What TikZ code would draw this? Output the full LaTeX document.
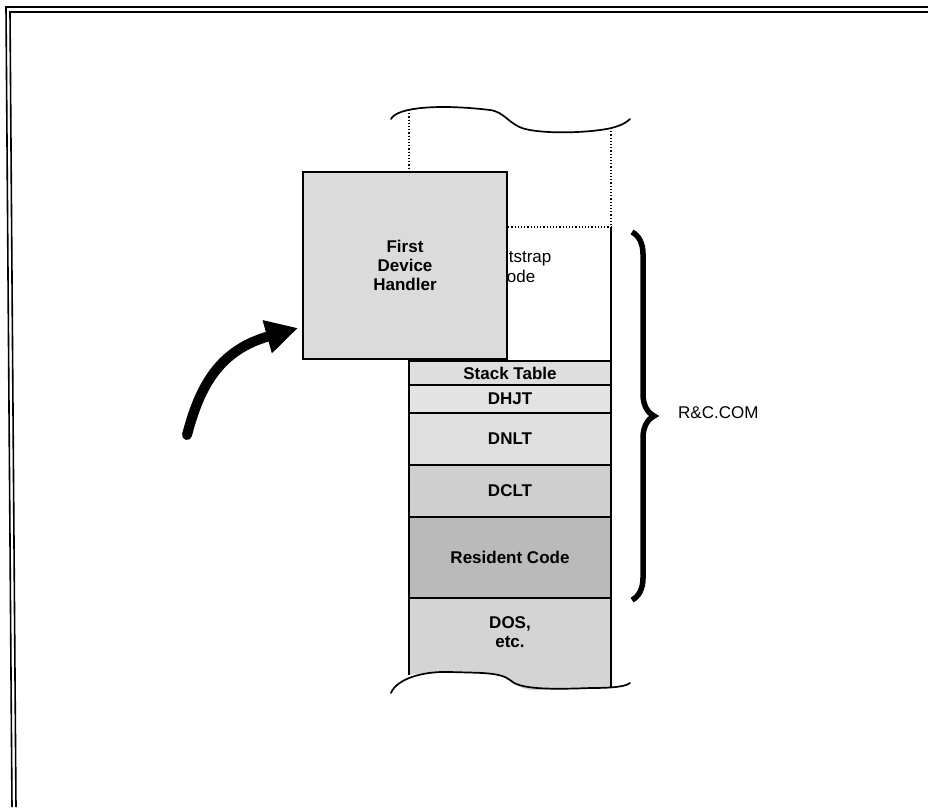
\documentclass[tikz,border=0pt]{standalone}
\usepackage{fontspec}
\setmainfont{Liberation Sans}
\usetikzlibrary{arrows.meta,decorations.pathreplacing}
\begin{document}
\begin{tikzpicture}[x=1pt,y=-1pt,
  rowbox/.style={draw=black,line width=1.4pt,minimum width=202pt,inner sep=0pt,font=\fontsize{17}{19}\selectfont\bfseries,align=center},
  lbl/.style={font=\fontsize{17}{19}\selectfont\bfseries,align=center,inner sep=0pt},
  frameline/.style={line width=1.6pt},
  wavy/.style={line width=1.7pt},
  dotline/.style={line width=1.2pt,dotted}]
\useasboundingbox (0,0) rectangle (928,807);
% outer frame
\draw[frameline] (928,7) -- (6,7) -- (12,807);
\draw[frameline] (928,12) -- (10,12) -- (16,807);
% top torn edge
\draw[wavy,line cap=round] (391,119) .. controls (397,107) and (440,104) .. (490,110)
  .. controls (505,112) and (508,124) .. (525,129)
  .. controls (550,135) and (600,132) .. (615,127)
  .. controls (622,125) and (627,122) .. (630,119);
% dotted upper column sides
\draw[dotline] (409,110) -- (409,172);
\draw[dotline] (611,128) -- (611,227);
\draw[dotline] (409,227) -- (611,227);
% bootstrap code text (mostly hidden)
\node[lbl,font=\fontsize{17}{20}\selectfont] (boot) at (515,267) {Bootstrap\\Code};
% rows
\node[rowbox,fill=black!13,minimum height=24pt] (stack) at (510,373) {Stack Table};
\node[rowbox,fill=black!11,minimum height=28pt] (dhjt) at (510,399) {DHJT};
\node[rowbox,fill=black!12,minimum height=52pt] (dnlt) at (510,439) {DNLT};
\node[rowbox,fill=black!19,minimum height=52pt] (dclt) at (510,491) {DCLT};
\node[rowbox,fill=black!27,minimum height=81pt] (res) at (510,557.5) {Resident Code};
% DOS region with torn bottom
\fill[black!17] (409,598) -- (611,598) -- (611,688)
  .. controls (600,688) and (560,690) .. (530,690)
  .. controls (515,688) and (510,676) .. (495,675)
  .. controls (470,672) and (430,671) .. (409,675) -- cycle;
\draw[line width=1.4pt] (409,598) -- (611,598);
\draw[line width=1.4pt] (409,598) -- (409,675);
\draw[line width=1.4pt] (611,227) -- (611,688);
\draw[wavy,line cap=round] (391,693) .. controls (396,680) and (420,671) .. (450,672)
  .. controls (480,673) and (500,672) .. (510,680)
  .. controls (518,688) and (540,690) .. (590,688)
  .. controls (610,688) and (625,687) .. (630,683);
\node[lbl] (dos) at (510,632) {DOS,\\etc.};
% first device handler box
\node[draw=black,line width=1.6pt,fill=black!14,minimum width=204pt,minimum height=187pt,inner sep=0pt,
  font=\fontsize{17}{19}\selectfont\bfseries,align=center] (fdh) at (405,265.5) {First\\Device\\Handler};
% arrow
\coordinate (arrowstart) at (187,435);
\coordinate (arrowtip) at (298,328);
\draw[line width=10pt,line cap=round,-{Triangle[length=32pt,width=32pt]}]
  (arrowstart) .. controls (200,385) and (220,350) .. (arrowtip);
% brace
\coordinate (bracetop) at (632,232);
\coordinate (bracebot) at (632,600);
\draw[line width=5.5pt,decorate,decoration={brace,amplitude=22pt,raise=0pt}] (bracetop) -- (bracebot);
\node[font=\fontsize{17}{19}\selectfont,anchor=west,inner sep=0pt] (rc) at (678,413) {R\&C.COM};
\end{tikzpicture}
\end{document}
